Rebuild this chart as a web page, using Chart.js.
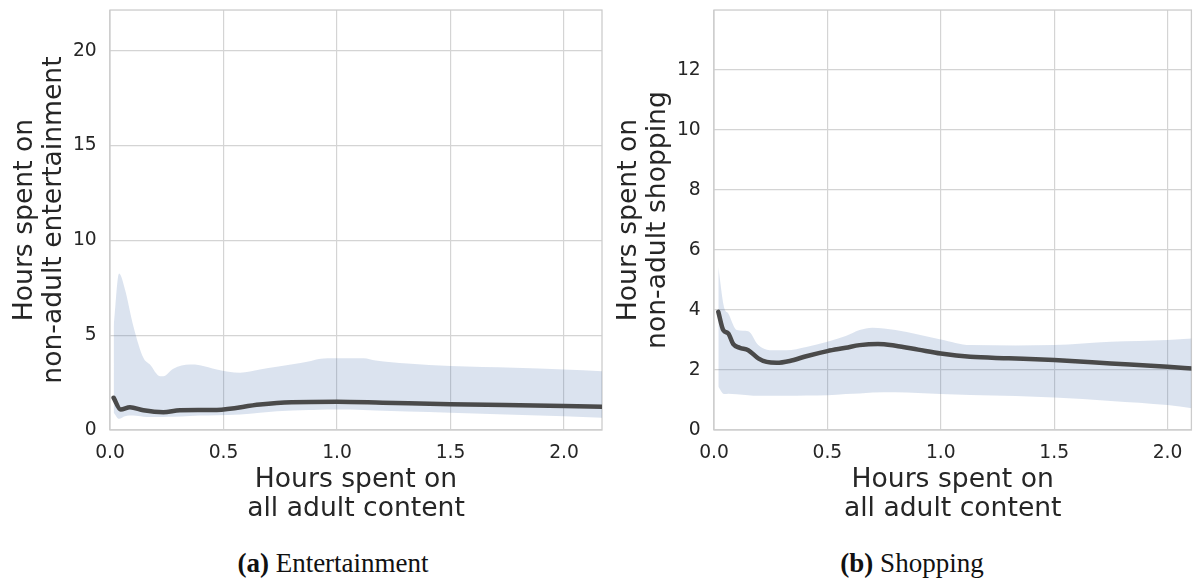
<!DOCTYPE html>
<html lang="en">
<head>
<meta charset="UTF-8">
<title>Hours spent on non-adult content</title>
<script src="https://cdn.jsdelivr.net/npm/chart.js"></script>
<style>
  body { margin: 0; background: #fff; width: 1194px; height: 578px; position: relative; overflow: hidden; }
  canvas { position: absolute; top: -7px; }
  #entCanvas { left: 0; }
  #shopCanvas { left: 604px; }
  .caption { position: absolute; top: 548px; line-height: 30px; font-family: "Liberation Serif", serif; font-size: 27px; color: #111; white-space: nowrap; transform: translateX(-50%); }
</style>
</head>
<body>
<canvas id="entCanvas" width="604" height="537"></canvas>
<canvas id="shopCanvas" width="590" height="537"></canvas>
<div class="caption" style="left:333px"><b>(a)</b> Entertainment</div>
<div class="caption" style="left:912px"><b>(b)</b> Shopping</div>
<script>
const xTicks = [0, 0.5, 1.0, 1.5, 2.0];

// (a) entertainment
const entMeanX = [0.016, 0.047, 0.088, 0.147, 0.235, 0.308, 0.47, 0.66, 0.8, 1.0, 1.2, 1.5, 2.0, 2.17];
const entMeanY = [1.70, 1.08, 1.20, 1.04, 0.94, 1.04, 1.06, 1.34, 1.46, 1.49, 1.44, 1.36, 1.27, 1.22];
const entBandX = [0.016, 0.04, 0.066, 0.103, 0.147, 0.176, 0.22, 0.235, 0.279, 0.352, 0.396, 0.47, 0.573, 0.66, 0.735, 0.874, 0.92, 1.0, 1.117, 1.17, 1.31, 1.5, 1.78, 2.0, 2.17];
const entBandHi = [5.47, 8.25, 7.41, 5.47, 3.81, 3.45, 2.84, 2.84, 3.23, 3.45, 3.42, 3.19, 3.02, 3.19, 3.33, 3.61, 3.75, 3.79, 3.79, 3.67, 3.51, 3.37, 3.28, 3.19, 3.10];
const entBandLo = [0.91, 0.59, 0.72, 0.76, 0.70, 0.68, 0.68, 0.69, 0.70, 0.74, 0.76, 0.78, 0.82, 0.91, 0.99, 1.05, 1.07, 1.08, 1.06, 1.03, 0.97, 0.91, 0.80, 0.73, 0.64];
const entYTicks = [0, 5, 10, 15, 20];

// (b) shopping
const shopMeanX = [0.019, 0.041, 0.063, 0.085, 0.114, 0.151, 0.195, 0.232, 0.276, 0.334, 0.407, 0.5, 0.581, 0.642, 0.723, 0.80, 0.9, 1.0, 1.13, 1.3, 1.5, 1.75, 2.0, 2.11];
const shopMeanY = [3.94, 3.33, 3.22, 2.86, 2.74, 2.66, 2.39, 2.27, 2.24, 2.30, 2.46, 2.63, 2.74, 2.83, 2.87, 2.81, 2.68, 2.55, 2.44, 2.39, 2.33, 2.22, 2.11, 2.05];
const shopBandX = [0.019, 0.044, 0.063, 0.1, 0.151, 0.195, 0.246, 0.32, 0.407, 0.5, 0.581, 0.642, 0.698, 0.8, 1.0, 1.13, 1.33, 1.5, 1.75, 2.0, 2.11];
const shopBandHi = [5.43, 4.10, 3.88, 3.33, 3.29, 2.83, 2.66, 2.66, 2.77, 2.94, 3.13, 3.33, 3.41, 3.33, 3.02, 2.83, 2.82, 2.83, 2.94, 3.00, 3.05];
const shopBandLo = [1.44, 1.20, 1.21, 1.19, 1.16, 1.14, 1.14, 1.14, 1.15, 1.16, 1.20, 1.22, 1.25, 1.26, 1.20, 1.17, 1.13, 1.08, 0.97, 0.83, 0.72];
const shopYTicks = [0, 2, 4, 6, 8, 10, 12];

const pts = (xs, ys) => xs.map((x, i) => ({ x: x, y: ys[i] }));

const ink = '#262626';
const gridColor = '#d4d4d4';

// light frame round the plot area (all four spines)
const frame = {
  id: 'frame',
  beforeDatasetsDraw(chart) {
    const { ctx, chartArea: a } = chart;
    ctx.save();
    ctx.strokeStyle = '#cccccc';
    ctx.lineWidth = 1.3;
    ctx.strokeRect(a.left, a.top, a.right - a.left, a.bottom - a.top);
    ctx.restore();
  }
};

function makePanel(id, p) {
  return new Chart(document.getElementById(id), {
    type: 'line',
    data: {
      datasets: [
        { data: pts(p.meanX, p.meanY), borderColor: '#4a4a4a', borderWidth: 4.5, pointRadius: 0,
          fill: false, order: 0, cubicInterpolationMode: 'monotone', borderCapStyle: 'round', borderJoinStyle: 'round' },
        { data: pts(p.bandX, p.hi), borderColor: 'transparent', borderWidth: 0, pointRadius: 0,
          backgroundColor: 'rgba(76,114,176,0.2)', fill: '+1', order: 1, cubicInterpolationMode: 'monotone' },
        { data: pts(p.bandX, p.lo), borderColor: 'transparent', borderWidth: 0, pointRadius: 0,
          fill: false, order: 1, cubicInterpolationMode: 'monotone' }
      ]
    },
    options: {
      responsive: false,
      animation: false,
      devicePixelRatio: 1,
      layout: { padding: { top: 2.5, right: p.padRight, left: 0, bottom: 0 } },
      plugins: { legend: { display: false }, tooltip: { enabled: false } },
      scales: {
        x: {
          type: 'linear', min: 0, max: p.xMax,
          afterBuildTicks: ax => { ax.ticks = xTicks.map(v => ({ value: v })); },
          afterFit: ax => { ax.height = 100; },
          grid: { color: gridColor, lineWidth: 1.2, drawTicks: false },
          border: { display: false },
          ticks: { padding: 11.5, color: ink, maxRotation: 0, autoSkip: false,
                   font: { family: 'DejaVu Sans', size: 18.7 }, callback: v => v.toFixed(1) },
          title: { display: true, text: ['Hours spent on', 'all adult content'], color: ink,
                   font: { family: 'DejaVu Sans', size: 26.6, lineHeight: 1.068 }, padding: { top: 0, bottom: 7 } }
        },
        y: {
          type: 'linear', min: 0, max: p.yMax,
          afterBuildTicks: ax => { ax.ticks = p.yTicks.map(v => ({ value: v })); },
          afterFit: ax => { ax.width = 110; },
          grid: { color: gridColor, lineWidth: 1.2, drawTicks: false },
          border: { display: false },
          ticks: { padding: 13.3, color: ink, font: { family: 'DejaVu Sans', size: 18.7, lineHeight: 0.4 }, callback: v => String(v) },
          title: { display: true, text: p.yTitle, color: ink,
                   font: { family: 'DejaVu Sans', size: 26.6, lineHeight: 1.068 }, padding: { top: 11.2, bottom: 0 } }
        }
      }
    },
    plugins: [frame]
  });
}

makePanel('entCanvas', {
  meanX: entMeanX, meanY: entMeanY, bandX: entBandX, hi: entBandHi, lo: entBandLo,
  yTicks: entYTicks, xMax: 2.167, yMax: 22.15, padRight: 2,
  yTitle: ['Hours spent on', 'non-adult entertainment']
});

makePanel('shopCanvas', {
  meanX: shopMeanX, meanY: shopMeanY, bandX: shopBandX, hi: shopBandHi, lo: shopBandLo,
  yTicks: shopYTicks, xMax: 2.105, yMax: 14, padRight: 1,
  yTitle: ['Hours spent on', 'non-adult shopping']
});
</script>
</body>
</html>
